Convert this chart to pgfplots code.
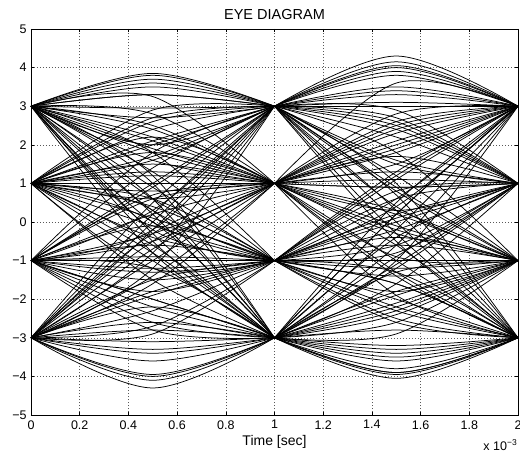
\documentclass[border=0pt]{standalone}
\usepackage{pgfplots}
\pgfplotsset{compat=1.18}
\usepackage{fontspec}
\setmainfont{Liberation Sans}
\begin{document}
\fontsize{12.5}{14}\selectfont
\begin{tikzpicture}
\begin{axis}[name=ax, scale only axis, width=487pt, height=386pt,
  xmin=0, xmax=2, ymin=-5, ymax=5,
  xtick={0,0.2,0.4,0.6,0.8,1,1.2,1.4,1.6,1.8,2},
  xticklabels={0,0.2,0.4,0.6,0.8,1,1.2,1.4,1.6,1.8,2},
  ytick={-5,-4,-3,-2,-1,0,1,2,3,4,5},
  yticklabels={−5,−4,−3,−2,−1,0,1,2,3,4,5},
  tick align=inside, tick pos=both, major tick length=3pt,
  tick style={black, line width=0.5pt},
  grid=major, grid style={black!65, line width=0.5pt, dash pattern=on 0.6pt off 2.4pt},
  axis line style={line width=0.8pt},
  tick label style={font=\fontsize{12.5}{14}\selectfont},
  xticklabel style={yshift=-1pt},
  title={EYE DIAGRAM},
  title style={at={(0.5,1)}, anchor=south, yshift=-1pt, font=\fontsize{14.5}{16}\selectfont},
  xlabel={Time [sec]},
  xlabel style={at={(0.5,0)}, anchor=center, yshift=-27pt, font=\fontsize{14}{16}\selectfont},
  cycle list={{black, solid, mark=none}},
  every axis plot/.append style={line width=0.75pt, smooth, tension=0.55},
  clip=true]
% ---- trace segments: left half (0 to 1e-3) and right half (1e-3 to 2e-3) ----
\addplot coordinates {(0,3)(0.5,3.85)(1,3)}; \addplot coordinates {(1,3)(1.5,4.3)(2,3)};
\addplot coordinates {(0,3)(0.5,3.8)(1,3)}; \addplot coordinates {(1,3)(1.5,4.15)(2,3)};
\addplot coordinates {(0,3)(0.5,3.7)(1,3)}; \addplot coordinates {(1,3)(1.5,2.9)(2,1)};
\addplot coordinates {(0,3)(0.5,3.6)(1,3)}; \addplot coordinates {(1,3)(1.5,4.05)(2,3)};
\addplot coordinates {(0,3)(0.5,3.3)(1,3)}; \addplot coordinates {(1,3)(1.5,1.2)(2,-1)};
\addplot coordinates {(0,3)(0.5,2.95)(1,3)}; \addplot coordinates {(1,3)(1.5,3.9)(2,3)};
\addplot coordinates {(0,3)(0.5,2.7)(1,3)}; \addplot coordinates {(1,3)(1.5,0.3)(2,-3)};
\addplot coordinates {(0,3)(0.5,3.25)(1,1)}; \addplot coordinates {(1,1)(1.5,2.4)(2,3)};
\addplot coordinates {(0,3)(0.5,2.5)(1,1)}; \addplot coordinates {(1,1)(1.5,1.3)(2,1)};
\addplot coordinates {(0,3)(0.5,1.6)(1,1)}; \addplot coordinates {(1,1)(1.5,0.2)(2,-1)};
\addplot coordinates {(0,3)(0.5,2.2)(1,1)}; \addplot coordinates {(1,1)(1.5,-1.3)(2,-3)};
\addplot coordinates {(0,3)(0.5,1.8)(1,1)}; \addplot coordinates {(1,1)(1.5,2.8)(2,3)};
\addplot coordinates {(0,3)(0.5,1.3)(1,-1)}; \addplot coordinates {(1,-1)(1.5,1.2)(2,3)};
\addplot coordinates {(0,3)(0.5,0.6)(1,-1)}; \addplot coordinates {(1,-1)(1.5,0.1)(2,1)};
\addplot coordinates {(0,3)(0.5,1.8)(1,-1)}; \addplot coordinates {(1,-1)(1.5,-1.6)(2,-3)};
\addplot coordinates {(0,3)(0.5,-0.2)(1,-1)}; \addplot coordinates {(1,-1)(1.5,-1.2)(2,-1)};
\addplot coordinates {(0,3)(0.5,0.9)(1,-1)}; \addplot coordinates {(1,-1)(1.5,-0.6)(2,1)};
\addplot coordinates {(0,3)(0.5,-0.3)(1,-3)}; \addplot coordinates {(1,-3)(1.5,-0.9)(2,1)};
\addplot coordinates {(0,3)(0.5,0.6)(1,-3)}; \addplot coordinates {(1,-3)(1.5,-3.9)(2,-3)};
\addplot coordinates {(0,3)(0.5,-0.8)(1,-3)}; \addplot coordinates {(1,-3)(1.5,-1.3)(2,-1)};
\addplot coordinates {(0,3)(0.5,0.2)(1,-3)}; \addplot coordinates {(1,-3)(1.5,0.5)(2,3)};
\addplot coordinates {(0,3)(0.5,1.2)(1,-3)}; \addplot coordinates {(1,-3)(1.5,-2.1)(2,-1)};
\addplot coordinates {(0,1)(0.5,2.9)(1,3)}; \addplot coordinates {(1,3)(1.5,3.5)(2,3)};
\addplot coordinates {(0,1)(0.5,2.6)(1,3)}; \addplot coordinates {(1,3)(1.5,1.5)(2,1)};
\addplot coordinates {(0,1)(0.5,1.6)(1,3)}; \addplot coordinates {(1,3)(1.5,-0.5)(2,-3)};
\addplot coordinates {(0,1)(0.5,2.1)(1,3)}; \addplot coordinates {(1,3)(1.5,0.4)(2,-1)};
\addplot coordinates {(0,1)(0.5,1.7)(1,3)}; \addplot coordinates {(1,3)(1.5,3.1)(2,3)};
\addplot coordinates {(0,1)(0.5,1.5)(1,1)}; \addplot coordinates {(1,1)(1.5,2.3)(2,3)};
\addplot coordinates {(0,1)(0.5,1.2)(1,1)}; \addplot coordinates {(1,1)(1.5,0.9)(2,1)};
\addplot coordinates {(0,1)(0.5,0.8)(1,1)}; \addplot coordinates {(1,1)(1.5,-0.3)(2,-1)};
\addplot coordinates {(0,1)(0.5,0.6)(1,1)}; \addplot coordinates {(1,1)(1.5,-1.4)(2,-3)};
\addplot coordinates {(0,1)(0.5,1.8)(1,1)}; \addplot coordinates {(1,1)(1.5,1.7)(2,1)};
\addplot coordinates {(0,1)(0.5,0.1)(1,-1)}; \addplot coordinates {(1,-1)(1.5,-0.6)(2,-1)};
\addplot coordinates {(0,1)(0.5,-0.4)(1,-1)}; \addplot coordinates {(1,-1)(1.5,0.4)(2,3)};
\addplot coordinates {(0,1)(0.5,0.6)(1,-1)}; \addplot coordinates {(1,-1)(1.5,-2.3)(2,-3)};
\addplot coordinates {(0,1)(0.5,-0.1)(1,-1)}; \addplot coordinates {(1,-1)(1.5,0.8)(2,1)};
\addplot coordinates {(0,1)(0.5,0.0)(1,-3)}; \addplot coordinates {(1,-3)(1.5,-1.8)(2,-1)};
\addplot coordinates {(0,1)(0.5,-0.8)(1,-3)}; \addplot coordinates {(1,-3)(1.5,-3.2)(2,-3)};
\addplot coordinates {(0,1)(0.5,-1.5)(1,-3)}; \addplot coordinates {(1,-3)(1.5,-0.4)(2,1)};
\addplot coordinates {(0,1)(0.5,-1.0)(1,-3)}; \addplot coordinates {(1,-3)(1.5,0.2)(2,3)};
\addplot coordinates {(0,1)(0.5,0.3)(1,-3)}; \addplot coordinates {(1,-3)(1.5,-3.6)(2,-3)};
\addplot coordinates {(0,-1)(0.5,1.4)(1,3)}; \addplot coordinates {(1,3)(1.5,2.6)(2,1)};
\addplot coordinates {(0,-1)(0.5,0.3)(1,3)}; \addplot coordinates {(1,3)(1.5,3.4)(2,3)};
\addplot coordinates {(0,-1)(0.5,1.0)(1,3)}; \addplot coordinates {(1,3)(1.5,0.0)(2,-3)};
\addplot coordinates {(0,-1)(0.5,-0.2)(1,3)}; \addplot coordinates {(1,3)(1.5,0.9)(2,-1)};
\addplot coordinates {(0,-1)(0.5,1.8)(1,3)}; \addplot coordinates {(1,3)(1.5,4.0)(2,3)};
\addplot coordinates {(0,-1)(0.5,0.2)(1,1)}; \addplot coordinates {(1,1)(1.5,1.1)(2,1)};
\addplot coordinates {(0,-1)(0.5,-0.5)(1,1)}; \addplot coordinates {(1,1)(1.5,1.8)(2,3)};
\addplot coordinates {(0,-1)(0.5,0.6)(1,1)}; \addplot coordinates {(1,1)(1.5,-0.9)(2,-1)};
\addplot coordinates {(0,-1)(0.5,-0.3)(1,1)}; \addplot coordinates {(1,1)(1.5,-1.0)(2,-3)};
\addplot coordinates {(0,-1)(0.5,-0.9)(1,-1)}; \addplot coordinates {(1,-1)(1.5,-1.0)(2,-1)};
\addplot coordinates {(0,-1)(0.5,-1.5)(1,-1)}; \addplot coordinates {(1,-1)(1.5,0.6)(2,1)};
\addplot coordinates {(0,-1)(0.5,-0.6)(1,-1)}; \addplot coordinates {(1,-1)(1.5,-2.2)(2,-3)};
\addplot coordinates {(0,-1)(0.5,-1.2)(1,-1)}; \addplot coordinates {(1,-1)(1.5,1.3)(2,3)};
\addplot coordinates {(0,-1)(0.5,-2.0)(1,-3)}; \addplot coordinates {(1,-3)(1.5,-2.6)(2,-1)};
\addplot coordinates {(0,-1)(0.5,-2.6)(1,-3)}; \addplot coordinates {(1,-3)(1.5,-3.4)(2,-3)};
\addplot coordinates {(0,-1)(0.5,-1.2)(1,-3)}; \addplot coordinates {(1,-3)(1.5,-1.1)(2,1)};
\addplot coordinates {(0,-1)(0.5,-2.4)(1,-3)}; \addplot coordinates {(1,-3)(1.5,0.2)(2,3)};
\addplot coordinates {(0,-1)(0.5,-1.8)(1,-1)}; \addplot coordinates {(1,-1)(1.5,-0.4)(2,-1)};
\addplot coordinates {(0,-3)(0.5,-0.2)(1,3)}; \addplot coordinates {(1,3)(1.5,3.3)(2,3)};
\addplot coordinates {(0,-3)(0.5,0.5)(1,3)}; \addplot coordinates {(1,3)(1.5,1.6)(2,1)};
\addplot coordinates {(0,-3)(0.5,-0.8)(1,3)}; \addplot coordinates {(1,3)(1.5,-0.3)(2,-3)};
\addplot coordinates {(0,-3)(0.5,0.0)(1,3)}; \addplot coordinates {(1,3)(1.5,0.8)(2,-1)};
\addplot coordinates {(0,-3)(0.5,-1.6)(1,1)}; \addplot coordinates {(1,1)(1.5,2.1)(2,3)};
\addplot coordinates {(0,-3)(0.5,-0.5)(1,1)}; \addplot coordinates {(1,1)(1.5,0.3)(2,1)};
\addplot coordinates {(0,-3)(0.5,-1.4)(1,1)}; \addplot coordinates {(1,1)(1.5,-0.2)(2,-1)};
\addplot coordinates {(0,-3)(0.5,-0.7)(1,1)}; \addplot coordinates {(1,1)(1.5,-1.9)(2,-3)};
\addplot coordinates {(0,-3)(0.5,-2.3)(1,-1)}; \addplot coordinates {(1,-1)(1.5,0.2)(2,1)};
\addplot coordinates {(0,-3)(0.5,-1.8)(1,-1)}; \addplot coordinates {(1,-1)(1.5,-2.6)(2,-3)};
\addplot coordinates {(0,-3)(0.5,-2.7)(1,-1)}; \addplot coordinates {(1,-1)(1.5,-1.4)(2,-1)};
\addplot coordinates {(0,-3)(0.5,-1.5)(1,-1)}; \addplot coordinates {(1,-1)(1.5,1.1)(2,3)};
\addplot coordinates {(0,-3)(0.5,-4.3)(1,-3)}; \addplot coordinates {(1,-3)(1.5,-4.05)(2,-3)};
\addplot coordinates {(0,-3)(0.5,-4.1)(1,-3)}; \addplot coordinates {(1,-3)(1.5,-3.95)(2,-3)};
\addplot coordinates {(0,-3)(0.5,-4.0)(1,-3)}; \addplot coordinates {(1,-3)(1.5,-2.9)(2,-1)};
\addplot coordinates {(0,-3)(0.5,-3.95)(1,-3)}; \addplot coordinates {(1,-3)(1.5,-3.9)(2,-3)};
\addplot coordinates {(0,-3)(0.5,-3.4)(1,-3)}; \addplot coordinates {(1,-3)(1.5,-1.2)(2,1)};
\addplot coordinates {(0,-3)(0.5,-3.1)(1,-3)}; \addplot coordinates {(1,-3)(1.5,-3.5)(2,-3)};
\addplot coordinates {(0,-3)(0.5,-2.6)(1,-3)}; \addplot coordinates {(1,-3)(1.5,-3.3)(2,-3)};
\addplot coordinates {(0,-3)(0.5,-2.2)(1,-3)}; \addplot coordinates {(1,-3)(1.5,-0.2)(2,3)};
\addplot coordinates {(0,-3)(0.5,-3.3)(1,-3)}; \addplot coordinates {(1,-3)(1.5,-3.8)(2,-3)};
\addplot coordinates {(0,-3)(0.5,-2.8)(1,-3)}; \addplot coordinates {(1,-3)(1.5,-1.9)(2,-1)};
\addplot coordinates {(0,3)(0.5,3.3)(1,3)}; \addplot coordinates {(1,3)(1.5,2.5)(2,1)};
\addplot coordinates {(0,3)(0.5,2.4)(1,1)}; \addplot coordinates {(1,1)(1.5,3.6)(2,3)};
\addplot coordinates {(0,1)(0.5,2.2)(1,1)}; \addplot coordinates {(1,1)(1.5,0.3)(2,-1)};
\addplot coordinates {(0,-1)(0.5,0.7)(1,1)}; \addplot coordinates {(1,1)(1.5,2.6)(2,3)};
\addplot coordinates {(0,1)(0.5,-1.2)(1,-1)}; \addplot coordinates {(1,-1)(1.5,-1.8)(2,-1)};
\addplot coordinates {(0,-1)(0.5,-0.1)(1,-1)}; \addplot coordinates {(1,-1)(1.5,-1.3)(2,-3)};
\addplot coordinates {(0,3)(0.5,2.0)(1,3)}; \addplot coordinates {(1,3)(1.5,1.8)(2,-1)};
\addplot coordinates {(0,1)(0.5,2.4)(1,3)}; \addplot coordinates {(1,3)(1.5,3.8)(2,3)};
\addplot coordinates {(0,3)(0.5,2.1)(1,1)}; \addplot coordinates {(1,1)(1.5,0.9)(2,1)};
\addplot coordinates {(0,-1)(0.5,0.9)(1,3)}; \addplot coordinates {(1,3)(1.5,2.2)(2,1)};
\addplot coordinates {(0,1)(0.5,-0.6)(1,-3)}; \addplot coordinates {(1,-3)(1.5,-2.4)(2,-1)};
\addplot coordinates {(0,-3)(0.5,-1.0)(1,1)}; \addplot coordinates {(1,1)(1.5,1.5)(2,3)};
\addplot coordinates {(0,-1)(0.5,-2.2)(1,-3)}; \addplot coordinates {(1,-3)(1.5,-1.6)(2,1)};
\addplot coordinates {(0,3)(0.5,0.3)(1,-1)}; \addplot coordinates {(1,-1)(1.5,-2.0)(2,-3)};
\addplot coordinates {(0,1)(0.5,0.4)(1,-1)}; \addplot coordinates {(1,-1)(1.5,0.0)(2,1)};
\addplot coordinates {(0,-3)(0.5,0.2)(1,3)}; \addplot coordinates {(1,3)(1.5,2.4)(2,1)};
\addplot coordinates {(0,3)(0.5,-0.5)(1,-3)}; \addplot coordinates {(1,-3)(1.5,-2.2)(2,-1)};
\addplot coordinates {(0,1)(0.5,1.0)(1,1)}; \addplot coordinates {(1,1)(1.5,2.0)(2,3)};
\addplot coordinates {(0,-1)(0.5,-1.0)(1,-1)}; \addplot coordinates {(1,-1)(1.5,-1.6)(2,-3)};
\addplot coordinates {(0,3)(0.5,1.0)(1,-3)}; \addplot coordinates {(1,-3)(1.5,-2.8)(2,-3)};
\addplot coordinates {(0,-3)(0.5,-1.2)(1,3)}; \addplot coordinates {(1,3)(1.5,3.0)(2,3)};
\addplot coordinates {(0,1)(0.5,2.0)(1,3)}; \addplot coordinates {(1,3)(1.5,1.0)(2,-3)};
\addplot coordinates {(0,-1)(0.5,-2.0)(1,-3)}; \addplot coordinates {(1,-3)(1.5,-1.0)(2,3)};
\addplot coordinates {(0,3)(0.5,1.9)(1,1)}; \addplot coordinates {(1,1)(1.5,-0.6)(2,-3)};
\addplot coordinates {(0,-3)(0.5,-1.9)(1,-1)}; \addplot coordinates {(1,-1)(1.5,0.6)(2,3)};
\addplot coordinates {(0,3)(0.5,3.5)(1,3)}; \addplot coordinates {(1,3)(1.5,2.7)(2,1)};
\addplot coordinates {(0,1)(0.5,1.3)(1,1)}; \addplot coordinates {(1,1)(1.5,1.9)(2,3)};
\addplot coordinates {(0,-1)(0.5,-1.3)(1,-1)}; \addplot coordinates {(1,-1)(1.5,-0.2)(2,1)};
\addplot coordinates {(0,-3)(0.5,-3.6)(1,-3)}; \addplot coordinates {(1,-3)(1.5,-2.3)(2,-1)};
\addplot coordinates {(0,3)(0.5,0.0)(1,-1)}; \addplot coordinates {(1,-1)(1.5,-0.8)(2,1)};
\addplot coordinates {(0,-3)(0.5,-0.3)(1,1)}; \addplot coordinates {(1,1)(1.5,-0.1)(2,-1)};
\addplot coordinates {(0,1)(0.5,2.7)(1,3)}; \addplot coordinates {(1,3)(1.5,0.7)(2,-3)};
\addplot coordinates {(0,-1)(0.5,-2.8)(1,-3)}; \addplot coordinates {(1,-3)(1.5,-0.6)(2,3)};
\addplot coordinates {(0,3)(0.5,2.8)(1,1)}; \addplot coordinates {(1,1)(1.5,2.5)(2,3)};
\addplot coordinates {(0,-3)(0.5,-2.9)(1,-1)}; \addplot coordinates {(1,-1)(1.5,-2.5)(2,-3)};
\end{axis}
\node[anchor=base east, inner sep=0pt] at ([shift={(-1pt,-35pt)}]ax.south east)
  {x 10\raisebox{5pt}{\fontsize{8.5}{9}\selectfont −3}};
\pgfresetboundingbox
\path[use as bounding box] ([shift={(-31pt,-46pt)}]ax.south west) rectangle ([shift={(2pt,29pt)}]ax.north east);
\end{tikzpicture}
\end{document}
